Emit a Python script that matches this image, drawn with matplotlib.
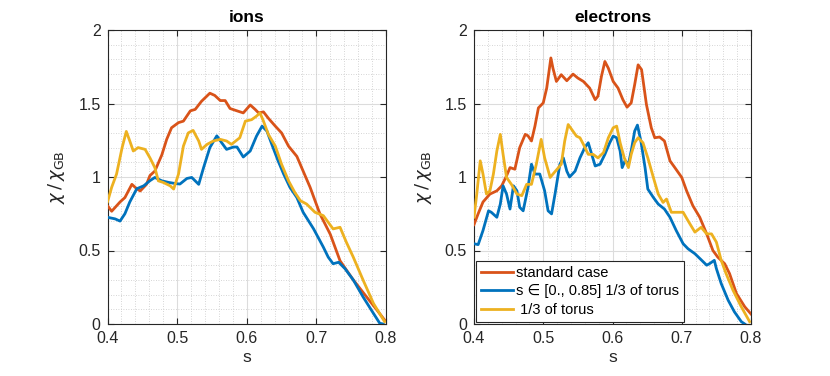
import matplotlib
matplotlib.use("Agg")
import matplotlib.pyplot as plt
from matplotlib.ticker import MultipleLocator

plt.rcParams['font.family'] = ['Liberation Sans', 'DejaVu Sans']
plt.rcParams['mathtext.fontset'] = 'dejavusans'

# ---------------- data ----------------
ions_std_s = [0.400, 0.406, 0.418, 0.425, 0.435, 0.442, 0.447, 0.456, 0.461, 0.468, 0.478, 0.485, 0.492, 0.502, 0.509, 0.519, 0.526, 0.535, 0.547, 0.554, 0.562, 0.569, 0.576, 0.586, 0.595, 0.605, 0.612, 0.617, 0.624, 0.631, 0.641, 0.650, 0.660, 0.672, 0.681, 0.691, 0.705, 0.720, 0.734, 0.753, 0.772, 0.787, 0.798]
ions_std_v = [0.805, 0.767, 0.83, 0.86, 0.95, 0.92, 0.905, 0.95, 1.01, 1.04, 1.15, 1.256, 1.335, 1.37, 1.38, 1.45, 1.46, 1.515, 1.57, 1.555, 1.52, 1.52, 1.466, 1.45, 1.436, 1.49, 1.46, 1.436, 1.443, 1.40, 1.346, 1.30, 1.21, 1.14, 1.04, 0.93, 0.75, 0.61, 0.43, 0.30, 0.185, 0.095, 0.027]

ions_sub_s = [0.400, 0.411, 0.418, 0.425, 0.432, 0.442, 0.452, 0.461, 0.468, 0.478, 0.488, 0.497, 0.504, 0.514, 0.521, 0.531, 0.538, 0.547, 0.557, 0.564, 0.571, 0.581, 0.586, 0.595, 0.605, 0.614, 0.622, 0.629, 0.636, 0.645, 0.653, 0.662, 0.672, 0.681, 0.696, 0.710, 0.717, 0.724, 0.732, 0.741, 0.753, 0.767, 0.782, 0.791, 0.796]
ions_sub_v = [0.726, 0.715, 0.70, 0.75, 0.83, 0.92, 0.94, 0.975, 0.997, 0.974, 0.963, 0.956, 0.952, 0.99, 0.997, 0.95, 1.064, 1.20, 1.28, 1.233, 1.188, 1.204, 1.204, 1.136, 1.177, 1.278, 1.346, 1.312, 1.222, 1.11, 1.02, 0.93, 0.86, 0.76, 0.647, 0.523, 0.455, 0.41, 0.42, 0.377, 0.30, 0.185, 0.072, 0.005, 0.0]

ions_third_s = [0.400, 0.406, 0.413, 0.421, 0.427, 0.432, 0.437, 0.444, 0.454, 0.461, 0.468, 0.473, 0.480, 0.490, 0.495, 0.502, 0.509, 0.516, 0.523, 0.531, 0.535, 0.543, 0.552, 0.562, 0.571, 0.578, 0.590, 0.598, 0.607, 0.614, 0.619, 0.624, 0.631, 0.641, 0.650, 0.660, 0.669, 0.677, 0.686, 0.698, 0.710, 0.717, 0.724, 0.734, 0.743, 0.753, 0.767, 0.782, 0.798]
ions_third_v = [0.83, 0.93, 1.02, 1.20, 1.31, 1.245, 1.177, 1.20, 1.188, 1.13, 1.064, 0.974, 0.963, 0.94, 0.918, 1.02, 1.21, 1.30, 1.317, 1.245, 1.188, 1.222, 1.245, 1.256, 1.245, 1.222, 1.267, 1.38, 1.39, 1.414, 1.436, 1.38, 1.29, 1.21, 1.087, 0.974, 0.895, 0.839, 0.816, 0.76, 0.737, 0.692, 0.647, 0.658, 0.557, 0.455, 0.30, 0.14, 0.016]

el_std_s = [0.400, 0.406, 0.413, 0.423, 0.433, 0.440, 0.447, 0.452, 0.459, 0.466, 0.474, 0.478, 0.483, 0.488, 0.493, 0.500, 0.505, 0.511, 0.514, 0.519, 0.526, 0.534, 0.543, 0.550, 0.558, 0.567, 0.575, 0.579, 0.584, 0.589, 0.594, 0.601, 0.608, 0.615, 0.621, 0.627, 0.632, 0.637, 0.642, 0.649, 0.656, 0.661, 0.668, 0.675, 0.683, 0.690, 0.700, 0.707, 0.716, 0.726, 0.736, 0.745, 0.752, 0.762, 0.769, 0.779, 0.791, 0.800]
el_std_v = [0.676, 0.75, 0.83, 0.884, 0.906, 0.94, 1.008, 1.064, 1.053, 1.20, 1.29, 1.28, 1.245, 1.346, 1.47, 1.504, 1.605, 1.81, 1.74, 1.65, 1.696, 1.655, 1.70, 1.673, 1.65, 1.605, 1.526, 1.55, 1.684, 1.786, 1.74, 1.65, 1.605, 1.526, 1.475, 1.504, 1.628, 1.763, 1.73, 1.493, 1.335, 1.267, 1.272, 1.245, 1.11, 1.064, 0.997, 0.906, 0.805, 0.726, 0.613, 0.50, 0.455, 0.41, 0.343, 0.207, 0.117, 0.068]

el_sub_s = [0.400, 0.406, 0.413, 0.421, 0.425, 0.433, 0.438, 0.442, 0.447, 0.452, 0.457, 0.462, 0.466, 0.471, 0.478, 0.483, 0.488, 0.495, 0.502, 0.507, 0.512, 0.517, 0.524, 0.529, 0.534, 0.538, 0.546, 0.553, 0.560, 0.565, 0.570, 0.575, 0.582, 0.589, 0.596, 0.601, 0.606, 0.611, 0.614, 0.618, 0.623, 0.627, 0.632, 0.636, 0.641, 0.647, 0.651, 0.659, 0.666, 0.675, 0.683, 0.692, 0.702, 0.709, 0.719, 0.728, 0.736, 0.740, 0.747, 0.750, 0.757, 0.767, 0.776, 0.786, 0.791]
el_sub_v = [0.546, 0.54, 0.636, 0.77, 0.76, 0.726, 0.816, 0.94, 0.884, 0.782, 0.94, 0.906, 0.794, 0.77, 0.929, 1.087, 1.02, 1.02, 0.906, 0.77, 0.749, 0.884, 1.087, 1.13, 1.04, 1.0, 1.04, 1.13, 1.20, 1.233, 1.154, 1.075, 1.087, 1.154, 1.233, 1.278, 1.267, 1.177, 1.064, 1.11, 1.087, 1.177, 1.312, 1.353, 1.245, 1.064, 0.918, 0.861, 0.816, 0.782, 0.726, 0.636, 0.546, 0.512, 0.478, 0.437, 0.40, 0.41, 0.433, 0.377, 0.275, 0.162, 0.083, 0.016, 0.0]

el_third_s = [0.400, 0.404, 0.409, 0.413, 0.418, 0.423, 0.428, 0.433, 0.438, 0.442, 0.447, 0.454, 0.462, 0.469, 0.476, 0.483, 0.490, 0.497, 0.502, 0.510, 0.514, 0.522, 0.526, 0.531, 0.536, 0.541, 0.548, 0.553, 0.558, 0.565, 0.572, 0.579, 0.587, 0.594, 0.601, 0.606, 0.611, 0.617, 0.623, 0.627, 0.632, 0.637, 0.644, 0.651, 0.659, 0.666, 0.673, 0.678, 0.685, 0.695, 0.702, 0.709, 0.719, 0.728, 0.736, 0.743, 0.750, 0.757, 0.764, 0.774, 0.786, 0.798]
el_third_v = [0.726, 0.884, 1.11, 1.02, 0.884, 0.906, 1.02, 1.177, 1.29, 1.154, 0.997, 0.95, 0.884, 0.873, 0.95, 0.95, 1.087, 1.256, 1.13, 0.997, 1.02, 1.064, 1.087, 1.245, 1.357, 1.324, 1.278, 1.267, 1.222, 1.154, 1.154, 1.13, 1.166, 1.267, 1.335, 1.346, 1.233, 1.13, 1.064, 1.154, 1.233, 1.267, 1.233, 1.13, 0.997, 0.884, 0.827, 0.85, 0.76, 0.76, 0.76, 0.703, 0.625, 0.658, 0.613, 0.613, 0.557, 0.433, 0.343, 0.23, 0.117, 0.016]

titles = ["ions", "electrons"]
legend_labels = ["standard case", "s \u2208 [0., 0.85] 1/3 of torus", " 1/3 of torus"]
xticks = [0.4, 0.5, 0.6, 0.7, 0.8]
yticks = [0, 0.5, 1, 1.5, 2]
ytick_labels = ["0", "0.5", "1", "1.5", "2"]

RED = "#D95319"
BLUE = "#0072BD"
YEL = "#EDB120"

fig = plt.figure(figsize=(8.3, 3.76), dpi=100)
ax1 = fig.add_axes([107.5 / 830, 52 / 376, 278.5 / 830, 294 / 376])
ax2 = fig.add_axes([474 / 830, 52 / 376, 277 / 830, 294 / 376])

panels = [
    (ax1, (ions_std_s, ions_std_v), (ions_sub_s, ions_sub_v), (ions_third_s, ions_third_v)),
    (ax2, (el_std_s, el_std_v), (el_sub_s, el_sub_v), (el_third_s, el_third_v)),
]

for i, (ax, std, sub, third) in enumerate(panels):
    ax.plot(*std, color=RED, lw=2, label=legend_labels[0], zorder=3)
    ax.plot(*sub, color=BLUE, lw=2, label=legend_labels[1], zorder=3)
    ax.plot(*third, color=YEL, lw=2, label=legend_labels[2], zorder=3)
    ax.set_xlim(0.4, 0.8)
    ax.set_ylim(0, 2)
    ax.set_xticks(xticks)
    ax.set_xticklabels([f"{t:g}" for t in xticks])
    ax.set_yticks(yticks)
    ax.set_yticklabels(ytick_labels)
    ax.xaxis.set_minor_locator(MultipleLocator(0.02))
    ax.yaxis.set_minor_locator(MultipleLocator(0.1))
    ax.grid(True, which='major', color='#dcdcdc', lw=0.8, ls='-')
    ax.grid(True, which='minor', color='#c8c8c8', lw=0.6, ls=(0, (1, 2)))
    ax.set_axisbelow(True)
    ax.tick_params(which='major', direction='in', length=4, top=True, right=True,
                   labelsize=11.5, color='#262626', labelcolor='#262626', width=0.8, pad=5)
    ax.tick_params(which='minor', length=0, top=True, right=True)
    for sp in ax.spines.values():
        sp.set_color('#262626')
        sp.set_linewidth(0.8)
    ax.set_title(titles[i], fontweight='bold', fontsize=12.5, color='black', pad=6)
    ax.set_xlabel("s", fontsize=12.5, color='#262626', labelpad=3)
    ax.set_ylabel(r"$\chi\,/\,\chi_{\mathrm{GB}}$", fontsize=13, color='#262626', labelpad=8)

leg = ax2.legend(loc='lower left', fontsize=10.5, frameon=True, fancybox=False,
                 edgecolor='#262626', framealpha=1, handlelength=2.2, handletextpad=0.2,
                 borderaxespad=0.15, borderpad=0.35, labelspacing=0.3)
leg.get_frame().set_linewidth(0.8)

fig.savefig("out.png", dpi=100)
